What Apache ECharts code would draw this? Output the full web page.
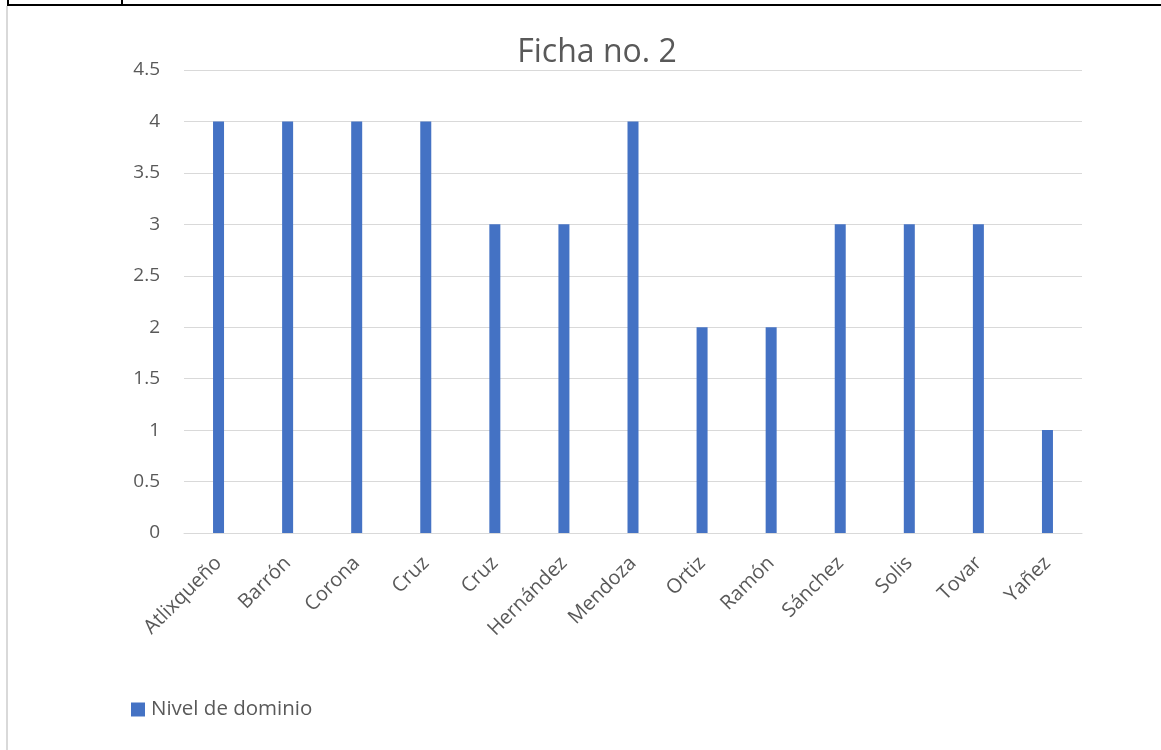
<!DOCTYPE html>
<html>
<head>
<meta charset="utf-8">
<script src="https://cdn.jsdelivr.net/npm/echarts@6/dist/echarts.min.js"></script>
<style>
html,body{margin:0;padding:0;background:#fff;}
#c{width:1161px;height:750px;}
</style>
</head>
<body>
<div id="c"></div>
<script>
const categories = ['Atlixqueño','Barrón','Corona','Cruz','Cruz','Hernández','Mendoza','Ortiz','Ramón','Sánchez','Solis','Tovar','Yañez'];
const nivel = [4,4,4,4,3,3,4,2,2,3,3,3,1];
const seriesName = 'Nivel de dominio';
const titleText = 'Ficha no. 2';

const FONT = '"Open Sans", "Liberation Sans", sans-serif';
const chart = echarts.init(document.getElementById('c'), null, {renderer:'canvas'});
chart.setOption({
  animation: false,
  backgroundColor: '#fff',
  textStyle: {fontFamily: FONT},
  title: {
    text: titleText, left: 592, top: 32, textAlign: 'center',
    textStyle: {fontFamily: FONT, fontSize: 32, fontWeight: 'normal', color: '#595959'}
  },
  legend: {
    left: 131, top: 699, padding: 0, itemWidth: 14, itemHeight: 14, itemGap: 6,
    icon: 'rect',
    textStyle: {fontFamily: FONT, fontSize: 20.5, color: '#595959', padding:[0,0,0,1]},
    data: [seriesName]
  },
  grid: {left: 184, right: 79, top: 70, bottom: 217, containLabel: false},
  xAxis: {
    type: 'category', data: categories,
    axisLine: {show: true, lineStyle: {color: '#d9d9d9', width: 1}},
    axisTick: {show: false},
    axisLabel: {interval: 0, rotate: 45, fontFamily: FONT, fontSize: 20, color: '#595959', margin: 27}
  },
  yAxis: {
    type: 'value', min: 0, max: 4.5, interval: 0.5,
    axisLine: {show: false}, axisTick: {show: false},
    splitLine: {lineStyle: {color: '#d9d9d9', width: 1}},
    axisLabel: {fontFamily: FONT, fontSize: 19, color: '#595959', margin: 24}
  },
  series: [{
    name: seriesName, type: 'bar', data: nivel,
    barWidth: 11,
    itemStyle: {color: '#4472c4'}
  }],
  graphic: [
    {type: 'rect', shape: {x: 7, y: 4, width: 1154, height: 2}, style: {fill: '#000'}, silent: true},
    {type: 'rect', shape: {x: 7, y: 0, width: 2, height: 6}, style: {fill: '#000'}, silent: true},
    {type: 'rect', shape: {x: 121, y: 0, width: 2, height: 6}, style: {fill: '#000'}, silent: true},
    {type: 'rect', shape: {x: 6, y: 6, width: 2, height: 744}, style: {fill: '#d9d9d9'}, silent: true}
  ]
});
</script>
</body>
</html>
